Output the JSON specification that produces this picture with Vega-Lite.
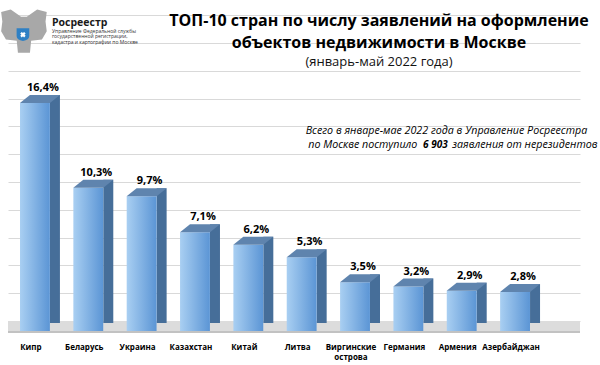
{
  "$schema": "https://vega.github.io/schema/vega-lite/v6.json",
  "width": 572,
  "height": 321,
  "autosize": {"type": "none"},
  "padding": {"left": 8, "top": 0, "right": 20, "bottom": 44},
  "background": "white",
  "config": {
    "view": {"stroke": null},
    "font": "Open Sans",
    "axisY": {
      "grid": true, "gridColor": "#d9d9d9", "gridWidth": 1,
      "labels": false, "ticks": false, "domain": false,
      "titleOpacity": 0,
      "values": [0, 2, 4, 6, 8, 10, 12, 14, 16, 18]
    }
  },
  "title": {
    "text": ["ТОП-10 стран по числу заявлений на оформление", "объектов недвижимости в Москве"],
    "subtitle": "(январь-май 2022 года)",
    "anchor": "middle",
    "dx": 85,
    "offset": -69,
    "font": "Open Sans",
    "fontSize": 16,
    "fontWeight": "bold",
    "lineHeight": 22,
    "color": "#000000",
    "subtitleFont": "Open Sans",
    "subtitleFontSize": 13,
    "subtitleFontWeight": "normal",
    "subtitleColor": "#111111",
    "subtitlePadding": 5
  },
  "data": {
    "values": [
      {"country": "Кипр", "value": 16.4, "label": "16,4%"},
      {"country": "Беларусь", "value": 10.3, "label": "10,3%"},
      {"country": "Украина", "value": 9.7, "label": "9,7%"},
      {"country": "Казахстан", "value": 7.1, "label": "7,1%"},
      {"country": "Китай", "value": 6.2, "label": "6,2%"},
      {"country": "Литва", "value": 5.3, "label": "5,3%"},
      {"country": "Виргинские острова", "value": 3.5, "label": "3,5%"},
      {"country": "Германия", "value": 3.2, "label": "3,2%"},
      {"country": "Армения", "value": 2.9, "label": "2,9%"},
      {"country": "Азербайджан", "value": 2.8, "label": "2,8%"}
    ]
  },
  "layer": [
    {
      "mark": {"type": "rule", "color": "#dcdcdc", "strokeWidth": 10, "yOffset": 5},
      "encoding": {
        "y": {
          "datum": 0, "type": "quantitative",
          "scale": {"domain": [0, 23.094], "nice": false, "zero": true},
          "axis": {"title": null}
        }
      }
    },
    {
      "mark": {"type": "rule", "color": "#c2c2c2", "strokeWidth": 2, "yOffset": 11},
      "encoding": {"y": {"datum": 0, "type": "quantitative"}}
    },
    {
      "mark": {"type": "bar", "width": 10, "xOffset": 20, "yOffset": 2, "y2Offset": 10, "color": "#466e99"},
      "encoding": {
        "x": {
          "field": "country", "type": "nominal", "sort": null,
          "scale": {"paddingInner": 0.44, "paddingOuter": 0.5813, "align": 0.1935},
          "axis": {
            "title": null, "domain": false, "ticks": false, "grid": false, "labelAngle": 0,
            "labelFont": "Open Sans", "labelFontSize": 8, "labelFontWeight": "bold", "labelColor": "#000000",
            "labelPadding": 22, "labelOffset": -4, "labelLineHeight": 10,
            "labelExpr": "split(datum.label, ' ')"
          }
        },
        "y": {"field": "value", "type": "quantitative"}
      }
    },
    {
      "mark": {
        "type": "bar", "yOffset": 10, "y2Offset": 10,
        "color": {
          "gradient": "linear", "x1": 0, "y1": 0, "x2": 1, "y2": 0,
          "stops": [{"offset": 0, "color": "#a9cff2"}, {"offset": 1, "color": "#5b95d5"}]
        }
      },
      "encoding": {
        "x": {"field": "country", "type": "nominal", "sort": null},
        "y": {"field": "value", "type": "quantitative"}
      }
    },
    {
      "mark": {
        "type": "point", "filled": true, "opacity": 1, "strokeWidth": 0, "size": 1600, "yOffset": 10,
        "color": "#5f84ae",
        "shape": "M -0.75 0 L 0.75 0 L 1.25 -0.4 L -0.25 -0.4 Z"
      },
      "encoding": {
        "x": {"field": "country", "type": "nominal", "sort": null},
        "y": {"field": "value", "type": "quantitative"}
      }
    },
    {
      "mark": {"type": "text", "baseline": "alphabetic", "align": "center", "dx": 8, "dy": -2, "font": "Open Sans", "fontSize": 11, "fontWeight": "bold", "color": "#000000"},
      "encoding": {
        "x": {"field": "country", "type": "nominal", "sort": null},
        "y": {"field": "value", "type": "quantitative"},
        "text": {"field": "label"}
      }
    },
    {
      "data": {"values": [{}]},
      "mark": {
        "type": "point", "filled": true, "opacity": 1, "strokeWidth": 0, "size": 2304, "xOffset": -11,
        "color": "#a8a8a8",
        "shape": "M -0.12 -0.55 L -0.55 -0.85 L -0.95 -0.75 L -0.9 -0.35 L -0.95 0.05 L -0.75 0.4 L -0.3 0.45 L -0.25 0.95 L 0.25 0.95 L 0.3 0.45 L 0.75 0.4 L 0.95 0.05 L 0.9 -0.35 L 0.95 -0.75 L 0.55 -0.85 L 0.12 -0.55 Z"
      },
      "encoding": {
        "x": {"datum": "Кипр", "type": "nominal"},
        "y": {"datum": 20.94, "type": "quantitative"}
      }
    },
    {
      "data": {"values": [{}]},
      "mark": {
        "type": "point", "filled": true, "opacity": 1, "strokeWidth": 0, "size": 160, "xOffset": -12,
        "color": "#2f80c4",
        "shape": "M -1 -1 L 1 -1 L 1 0.2 Q 1 0.8 0 1 Q -1 0.8 -1 0.2 Z"
      },
      "encoding": {
        "x": {"datum": "Кипр", "type": "nominal"},
        "y": {"datum": 20.6, "type": "quantitative"}
      }
    },
    {
      "data": {"values": [{}]},
      "mark": {
        "type": "point", "filled": true, "opacity": 1, "strokeWidth": 0, "size": 30, "xOffset": -12,
        "color": "#ffffff", "shape": "cross", "angle": 45
      },
      "encoding": {
        "x": {"datum": "Кипр", "type": "nominal"},
        "y": {"datum": 20.6, "type": "quantitative"}
      }
    },
    {
      "data": {"values": [{}]},
      "mark": {"type": "text", "text": "Росреестр", "align": "left", "baseline": "alphabetic", "dx": 17, "font": "Open Sans", "fontSize": 10.5, "fontWeight": "bold", "color": "#1a1a1a"},
      "encoding": {
        "x": {"datum": "Кипр", "type": "nominal"},
        "y": {"datum": 21.22, "type": "quantitative"}
      }
    },
    {
      "data": {"values": [{}]},
      "mark": {"type": "text", "text": ["Управление Федеральной службы", "государственной регистрации,", "кадастра и картографии по Москве"], "align": "left", "baseline": "alphabetic", "dx": 17, "font": "Open Sans", "fontSize": 5, "lineHeight": 5.3, "color": "#333333"},
      "encoding": {
        "x": {"datum": "Кипр", "type": "nominal"},
        "y": {"datum": 20.72, "type": "quantitative"}
      }
    },
    {
      "data": {"values": [{}]},
      "mark": {"type": "text", "text": "Всего в январе-мае 2022 года в Управление Росреестра", "align": "left", "baseline": "alphabetic", "dx": 4, "font": "Open Sans", "fontSize": 10.7, "fontStyle": "italic", "color": "#000000"},
      "encoding": {
        "x": {"datum": "Литва", "type": "nominal"},
        "y": {"datum": 13.45, "type": "quantitative"}
      }
    },
    {
      "data": {"values": [{}]},
      "mark": {"type": "text", "text": "по Москве поступило", "align": "right", "baseline": "alphabetic", "dx": 9, "font": "Open Sans", "fontSize": 10.7, "fontStyle": "italic", "color": "#000000"},
      "encoding": {
        "x": {"datum": "Германия", "type": "nominal"},
        "y": {"datum": 12.45, "type": "quantitative"}
      }
    },
    {
      "data": {"values": [{}]},
      "mark": {"type": "text", "text": "6 903", "align": "center", "baseline": "alphabetic", "dx": 27, "font": "Open Sans", "fontSize": 10, "fontStyle": "italic", "fontWeight": "bold", "color": "#000000"},
      "encoding": {
        "x": {"datum": "Германия", "type": "nominal"},
        "y": {"datum": 12.45, "type": "quantitative"}
      }
    },
    {
      "data": {"values": [{}]},
      "mark": {"type": "text", "text": "заявления от нерезидентов", "align": "left", "baseline": "alphabetic", "dx": 44, "font": "Open Sans", "fontSize": 10.7, "fontStyle": "italic", "color": "#000000"},
      "encoding": {
        "x": {"datum": "Германия", "type": "nominal"},
        "y": {"datum": 12.45, "type": "quantitative"}
      }
    }
  ]
}
